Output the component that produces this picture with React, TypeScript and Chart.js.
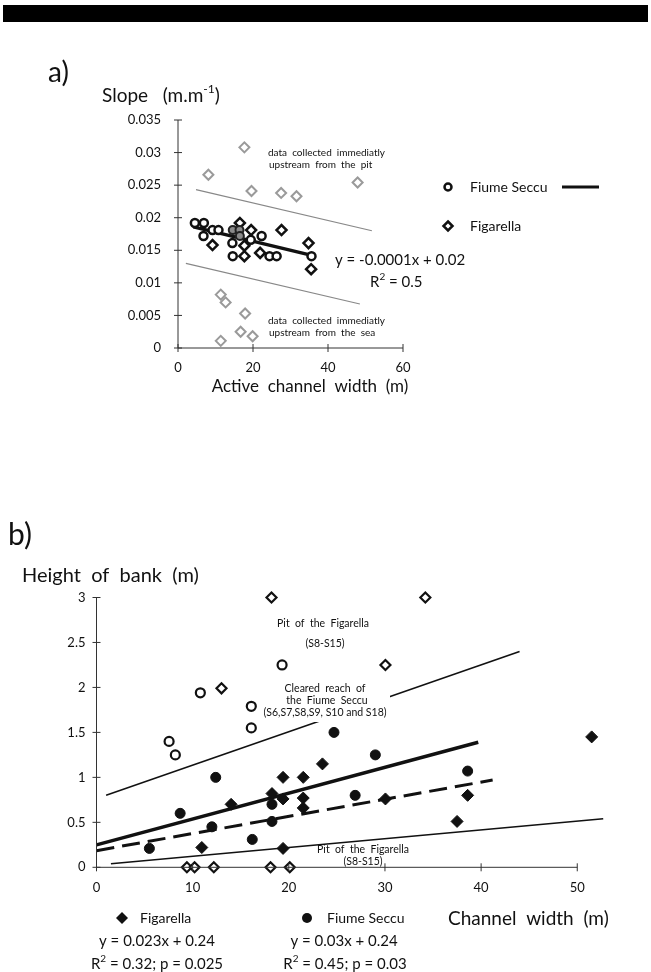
import React, { useEffect, useRef } from "react";
import { Chart, registerables } from "chart.js";

Chart.register(...registerables);

const FONT = "Lato, 'Open Sans', 'DejaVu Sans', sans-serif";

// ---------------- Chart a) data ----------------
const aXTicks = [0, 20, 40, 60];
const aYTicks = [0, 0.005, 0.01, 0.015, 0.02, 0.025, 0.03, 0.035];
const aYTickLabels = ["0", "0.005", "0.01", "0.015", "0.02", "0.025", "0.03", "0.035"];

const aSeccuX = [4.5, 6.9, 6.8, 9.2, 10.8, 14.5, 14.6, 19.4, 22.3, 24.4, 26.3, 35.6];
const aSeccuY = [0.0192, 0.0192, 0.0172, 0.0181, 0.0181, 0.0161, 0.0141, 0.0166, 0.0172, 0.0141, 0.0141, 0.0141];
const aSeccuGreyX = [14.6, 16.4, 16.5];
const aSeccuGreyY = [0.0181, 0.0181, 0.0172];
const aFigX = [9.2, 16.5, 17.7, 17.7, 19.5, 21.9, 27.6, 34.8, 35.5];
const aFigY = [0.0158, 0.0192, 0.0141, 0.0157, 0.0181, 0.0146, 0.0181, 0.0161, 0.0121];
const aFigOutX = [8.1, 17.7, 19.6, 27.5, 31.6, 47.9, 11.4, 12.7, 17.9, 16.7, 19.9, 11.4];
const aFigOutY = [0.0266, 0.0308, 0.0241, 0.0238, 0.0233, 0.0254, 0.0082, 0.007, 0.0053, 0.0025, 0.0018, 0.0011];
const aTrendX = [4.1, 36.5];
const aTrendY = [0.0186, 0.0141];
const aUpperX = [4.8, 51.7];
const aUpperY = [0.0243, 0.018];
const aLowerX = [2.1, 48.5];
const aLowerY = [0.013, 0.00675];

// ---------------- Chart b) data ----------------
const bXTicks = [0, 10, 20, 30, 40, 50];
const bYTicks = [0, 0.5, 1, 1.5, 2, 2.5, 3];
const bYTickLabels = ["0", "0.5", "1", "1.5", "2", "2.5", "3"];

const bPitFigX = [18.2, 34.2, 30.05, 13.0, 9.4, 10.2, 12.2, 18.1, 20.1];
const bPitFigY = [3.0, 3.0, 2.25, 1.99, 0, 0, 0, 0, 0];
const bClearedX = [7.55, 8.2, 10.8, 16.1, 16.1, 19.3];
const bClearedY = [1.4, 1.25, 1.94, 1.79, 1.55, 2.25];
const bFigX = [10.95, 14.0, 18.25, 19.4, 19.4, 19.4, 21.5, 21.5, 21.5, 23.5, 30.05, 38.6, 37.5, 51.5];
const bFigY = [0.22, 0.7, 0.82, 1.0, 0.76, 0.21, 1.0, 0.77, 0.66, 1.15, 0.76, 0.8, 0.51, 1.45];
const bSeccuX = [5.5, 8.7, 12.4, 12.0, 16.2, 18.25, 18.25, 24.7, 26.9, 29.0, 38.6];
const bSeccuY = [0.21, 0.6, 1.0, 0.45, 0.31, 0.7, 0.51, 1.5, 0.8, 1.25, 1.07];
const bUpperX = [1.0, 44.0];
const bUpperY = [0.8, 2.4];
const bSeccuFitX = [0, 39.7];
const bSeccuFitY = [0.25, 1.39];
const bFigFitX = [0, 41.2];
const bFigFitY = [0.185, 0.97];
const bLowerX = [1.5, 52.7];
const bLowerY = [0.04, 0.54];

const pts = (xs: number[], ys: number[]) => xs.map((x, i) => ({ x, y: ys[i] }));

type Part = { t: string; sup?: boolean };
function drawRich(ctx: CanvasRenderingContext2D, parts: Part[], x: number, y: number, size: number, align: "left" | "center" = "left") {
  const supSize = Math.round(size * 0.65);
  const widths = parts.map((p) => {
    ctx.font = `${p.sup ? supSize : size}px ${FONT}`;
    return ctx.measureText(p.t).width;
  });
  const total = widths.reduce((a, b) => a + b, 0);
  let cx = align === "center" ? x - total / 2 : x;
  ctx.textAlign = "left";
  ctx.textBaseline = "alphabetic";
  parts.forEach((p, i) => {
    ctx.font = `${p.sup ? supSize : size}px ${FONT}`;
    ctx.fillText(p.t, cx, p.sup ? y - size * 0.45 : y);
    cx += widths[i];
  });
}

// axis lines (from first to last tick) with ticks crossing the axis
const crossTicks = {
  id: "crossTicks",
  afterDraw(chart: any) {
    const { ctx, chartArea } = chart;
    const xs = chart.scales.x;
    const ys = chart.scales.y;
    ctx.save();
    ctx.strokeStyle = "#333";
    ctx.lineWidth = 1;
    const xFirst = xs.getPixelForTick(0);
    const xLast = xs.getPixelForTick(xs.ticks.length - 1);
    const yFirst = ys.getPixelForTick(0);
    const yLast = ys.getPixelForTick(ys.ticks.length - 1);
    ctx.beginPath();
    ctx.moveTo(xFirst, chartArea.bottom);
    ctx.lineTo(xLast, chartArea.bottom);
    ctx.moveTo(chartArea.left, yFirst);
    ctx.lineTo(chartArea.left, yLast);
    ctx.stroke();
    xs.ticks.forEach((_: any, i: number) => {
      const px = xs.getPixelForTick(i);
      ctx.beginPath();
      ctx.moveTo(px, chartArea.bottom - 4);
      ctx.lineTo(px, chartArea.bottom + 4);
      ctx.stroke();
    });
    ys.ticks.forEach((_: any, i: number) => {
      const py = ys.getPixelForTick(i);
      ctx.beginPath();
      ctx.moveTo(chartArea.left - 4, py);
      ctx.lineTo(chartArea.left + 4, py);
      ctx.stroke();
    });
    ctx.restore();
  },
};

function diamond(ctx: CanvasRenderingContext2D, x: number, y: number, r: number) {
  ctx.beginPath();
  ctx.moveTo(x, y - r);
  ctx.lineTo(x + r, y);
  ctx.lineTo(x, y + r);
  ctx.lineTo(x - r, y);
  ctx.closePath();
}

function axisOpts(min: number, max: number, ticks: number[], labels: string[] | null, pad: number, fit: (s: any) => void) {
  return {
    type: "linear" as const,
    min,
    max,
    afterBuildTicks: (s: any) => {
      s.ticks = ticks.map((v) => ({ value: v }));
    },
    afterFit: fit,
    grid: { display: true, drawOnChartArea: false, drawTicks: false },
    border: { display: false },
    ticks: {
      padding: pad,
      color: "#111",
      font: { family: FONT, size: 13 },
      maxRotation: 0,
      autoSkip: false,
      callback: (v: any, i: number) => (labels ? labels[i] : String(v)),
    },
  };
}

const lineDs = (xs: number[], ys: number[], width: number, color: string, dash: number[] = []) => ({
  data: pts(xs, ys),
  showLine: true,
  pointRadius: 0,
  borderColor: color,
  borderWidth: width,
  borderDash: dash,
  fill: false,
  clip: false as any,
});

export default function App() {
  const refA = useRef<HTMLCanvasElement>(null);
  const refB = useRef<HTMLCanvasElement>(null);

  useEffect(() => {
    const textA = {
      id: "textA",
      afterDraw(chart: any) {
        const ctx = chart.ctx as CanvasRenderingContext2D;
        ctx.save();
        ctx.fillStyle = "#111";
        drawRich(ctx, [{ t: "a)" }], 48, 82, 28);
        drawRich(ctx, [{ t: "Slope   (m.m" }, { t: "-1", sup: true }, { t: ")" }], 102, 102, 19);
        drawRich(ctx, [{ t: "Active  channel  width  (m)" }], 310, 392, 17, "center");
        drawRich(ctx, [{ t: "data  collected  immediatly" }], 268, 156, 10);
        drawRich(ctx, [{ t: "upstream  from  the  pit" }], 269, 168, 10);
        drawRich(ctx, [{ t: "data  collected  immediatly" }], 268, 324, 10);
        drawRich(ctx, [{ t: "upstream  from  the  sea" }], 269, 336, 10);
        drawRich(ctx, [{ t: "y = -0.0001x + 0.02" }], 335, 265, 15);
        drawRich(ctx, [{ t: "R" }, { t: "2", sup: true }, { t: " = 0.5" }], 370, 287, 15);
        // legend
        ctx.lineWidth = 2.5;
        ctx.strokeStyle = "#111";
        ctx.fillStyle = "#fff";
        ctx.beginPath();
        ctx.arc(448, 187, 3.5, 0, Math.PI * 2);
        ctx.fill();
        ctx.stroke();
        diamond(ctx, 448, 226, 4.5);
        ctx.fill();
        ctx.stroke();
        ctx.lineWidth = 3;
        ctx.beginPath();
        ctx.moveTo(562, 187);
        ctx.lineTo(599, 187);
        ctx.stroke();
        ctx.fillStyle = "#111";
        drawRich(ctx, [{ t: "Fiume Seccu" }], 470, 192, 14);
        drawRich(ctx, [{ t: "Figarella" }], 470, 231, 14);
        ctx.restore();
      },
    };

    const chartA = new Chart(refA.current!, {
      type: "scatter",
      data: {
        datasets: [
          { data: pts(aSeccuGreyX, aSeccuGreyY), pointStyle: "circle", pointRadius: 4, pointBackgroundColor: "#8a8a8a", pointBorderColor: "#222", pointBorderWidth: 2 },
          { data: pts(aSeccuX, aSeccuY), pointStyle: "circle", pointRadius: 4, pointBackgroundColor: "#fff", pointBorderColor: "#111", pointBorderWidth: 2.5 },
          { data: pts(aFigX, aFigY), pointStyle: "rectRot", pointRadius: 5, pointBackgroundColor: "#fff", pointBorderColor: "#111", pointBorderWidth: 2.5 },
          { data: pts(aFigOutX, aFigOutY), pointStyle: "rectRot", pointRadius: 5, pointBackgroundColor: "#fff", pointBorderColor: "#9a9a9a", pointBorderWidth: 2 },
          lineDs(aTrendX, aTrendY, 3.5, "#111"),
          lineDs(aUpperX, aUpperY, 1.2, "#888"),
          lineDs(aLowerX, aLowerY, 1.2, "#888"),
        ] as any,
      },
      options: {
        responsive: false,
        animation: false,
        events: [],
        layout: { padding: { left: 118, right: 248, top: 120, bottom: 52 } },
        plugins: { legend: { display: false }, tooltip: { enabled: false } },
        scales: {
          x: axisOpts(0, 60, aXTicks, null, 12, (s: any) => { s.height = 30; }),
          y: axisOpts(0, 0.035, aYTicks, aYTickLabels, 17, (s: any) => { s.width = 60; }),
        } as any,
      },
      plugins: [crossTicks, textA],
    });

    const textB = {
      id: "textB",
      afterDatasetsDraw(chart: any) {
        const ctx = chart.ctx as CanvasRenderingContext2D;
        const o = 520;
        ctx.save();
        ctx.fillStyle = "#fff";
        ctx.fillRect(262, 682 - o, 128, 40);
        ctx.fillStyle = "#111";
        drawRich(ctx, [{ t: "Pit  of  the  Figarella" }], 323, 627 - o, 10.5, "center");
        drawRich(ctx, [{ t: "(S8-S15)" }], 325, 647 - o, 10.5, "center");
        drawRich(ctx, [{ t: "Cleared  reach  of" }], 325, 692 - o, 10.5, "center");
        drawRich(ctx, [{ t: "the  Fiume  Seccu" }], 327, 704 - o, 10.5, "center");
        drawRich(ctx, [{ t: "(S6,S7,S8,S9, S10 and S18)" }], 325, 716 - o, 10.5, "center");
        drawRich(ctx, [{ t: "Pit  of  the  Figarella" }], 363, 853 - o, 10.5, "center");
        drawRich(ctx, [{ t: "(S8-S15)" }], 363, 865 - o, 10.5, "center");
        ctx.restore();
      },
      afterDraw(chart: any) {
        const ctx = chart.ctx as CanvasRenderingContext2D;
        const o = 520;
        ctx.save();
        ctx.fillStyle = "#111";
        drawRich(ctx, [{ t: "b)" }], 8, 545 - o, 30);
        drawRich(ctx, [{ t: "Height  of  bank  (m)" }], 22, 582 - o, 20);
        diamond(ctx, 122, 918 - o, 6);
        ctx.fill();
        ctx.beginPath();
        ctx.arc(307, 918 - o, 5, 0, Math.PI * 2);
        ctx.fill();
        drawRich(ctx, [{ t: "Figarella" }], 140, 923 - o, 14);
        drawRich(ctx, [{ t: "y = 0.023x + 0.24" }], 157, 946 - o, 15, "center");
        drawRich(ctx, [{ t: "R" }, { t: "2", sup: true }, { t: " = 0.32; p = 0.025" }], 157, 969 - o, 15, "center");
        drawRich(ctx, [{ t: "Fiume Seccu" }], 327, 923 - o, 14);
        drawRich(ctx, [{ t: "y = 0.03x + 0.24" }], 344, 946 - o, 15, "center");
        drawRich(ctx, [{ t: "R" }, { t: "2", sup: true }, { t: " = 0.45; p = 0.03" }], 345, 969 - o, 15, "center");
        drawRich(ctx, [{ t: "Channel  width  (m)" }], 448, 925 - o, 19);
        ctx.restore();
      },
    };

    const chartB = new Chart(refB.current!, {
      type: "scatter",
      data: {
        datasets: [
          { data: pts(bPitFigX, bPitFigY), pointStyle: "rectRot", pointRadius: 5, pointBackgroundColor: "#fff", pointBorderColor: "#111", pointBorderWidth: 2.2, clip: false },
          { data: pts(bClearedX, bClearedY), pointStyle: "circle", pointRadius: 4.5, pointBackgroundColor: "#fff", pointBorderColor: "#111", pointBorderWidth: 2.2, clip: false },
          { data: pts(bFigX, bFigY), pointStyle: "rectRot", pointRadius: 6, pointBackgroundColor: "#111", pointBorderColor: "#111", pointBorderWidth: 1, clip: false },
          { data: pts(bSeccuX, bSeccuY), pointStyle: "circle", pointRadius: 5, pointBackgroundColor: "#111", pointBorderColor: "#111", pointBorderWidth: 1, clip: false },
          lineDs(bSeccuFitX, bSeccuFitY, 3.5, "#111"),
          lineDs(bFigFitX, bFigFitY, 3, "#111", [18, 8]),
          lineDs(bUpperX, bUpperY, 1.6, "#111"),
          lineDs(bLowerX, bLowerY, 1.6, "#111"),
        ] as any,
      },
      options: {
        responsive: false,
        animation: false,
        events: [],
        layout: { padding: { left: 46.5, right: 49.7, top: 77.5, bottom: 74.7 } },
        plugins: { legend: { display: false }, tooltip: { enabled: false } },
        scales: {
          x: axisOpts(0, 52.5, bXTicks, null, 13, (s: any) => { s.height = 30; }),
          y: axisOpts(0, 3, bYTicks, bYTickLabels, 11, (s: any) => { s.width = 50; }),
        } as any,
      },
      plugins: [crossTicks, textB],
    });

    return () => {
      chartA.destroy();
      chartB.destroy();
    };
  }, []);

  return (
    <div style={{ position: "absolute", left: 0, top: 0, width: 651, height: 972, background: "#fff", overflow: "hidden" }}>
      <div style={{ position: "absolute", left: 3, top: 5, width: 645, height: 17, background: "#000" }} />
      <canvas ref={refA} width={651} height={430} style={{ position: "absolute", left: 0, top: 0, width: 651, height: 430 }} />
      <canvas ref={refB} width={651} height={452} style={{ position: "absolute", left: 0, top: 520, width: 651, height: 452 }} />
    </div>
  );
}
